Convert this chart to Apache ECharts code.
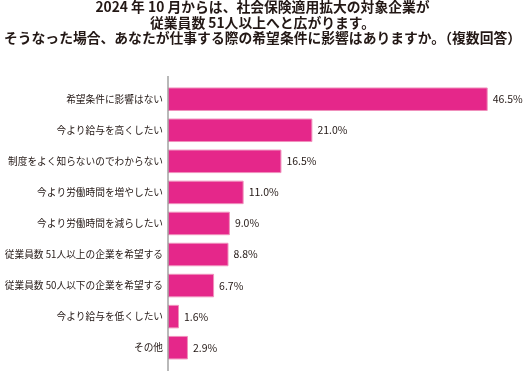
<!DOCTYPE html>
<html>
<head>
<meta charset="utf-8">
<script src="https://cdn.jsdelivr.net/npm/echarts@6/dist/echarts.min.js"></script>
<style>html,body{margin:0;padding:0;background:#fff;}#c{width:525px;height:371px;}</style>
</head>
<body>
<div id="c"></div>
<script>
const titleLines = [
  '2024 年 10 月からは、社会保険適用拡大の対象企業が',
  '従業員数 51人以上へと広がります。',
  'そうなった場合、あなたが仕事する際の希望条件に影響はありますか。（複数回答）'
];
const categories = [
  '希望条件に影響はない',
  '今より給与を高くしたい',
  '制度をよく知らないのでわからない',
  '今より労働時間を増やしたい',
  '今より労働時間を減らしたい',
  '従業員数 51人以上の企業を希望する',
  '従業員数 50人以下の企業を希望する',
  '今より給与を低くしたい',
  'その他'
];
const values = [46.5, 21.0, 16.5, 11.0, 9.0, 8.8, 6.7, 1.6, 2.9];

const font = "'Noto Sans CJK JP', 'Noto Sans', sans-serif";
const chart = echarts.init(document.getElementById('c'), null, {renderer: 'canvas'});
chart.setOption({
  backgroundColor: '#ffffff',
  animation: false,
  title: titleLines.map((t, i) => ({
    text: t,
    left: 'center',
    top: -0.5 + i * 15.5,
    padding: 0,
    textStyle: {
      fontFamily: font,
      fontSize: 13.8,
      fontWeight: 'bold',
      color: '#231815',
      lineHeight: 15
    }
  })),
  grid: {left: 168, right: 13.25, top: 83.7, bottom: 7.8, containLabel: false},
  xAxis: {
    type: 'value', min: 0, max: 50, show: false
  },
  yAxis: {
    type: 'category',
    data: categories,
    inverse: true,
    axisLine: {show: false},
    axisTick: {show: false},
    axisLabel: {
      fontFamily: font, fontSize: 9.7, color: '#231815', margin: 5
    }
  },
  graphic: [{
    type: 'line',
    shape: {x1: 168, y1: 76, x2: 168, y2: 371},
    style: {stroke: '#8a8a8a', lineWidth: 1.2},
    z: 10
  }],
  series: [{
    type: 'bar',
    data: values,
    barWidth: 23.5,
    itemStyle: {color: '#E5278A', borderColor: '#F090BC', borderWidth: 1},
    label: {
      show: true,
      position: 'right',
      distance: 5,
      fontFamily: font,
      fontSize: 10.5,
      color: '#231815',
      formatter: p => p.value.toFixed(1) + '%'
    }
  }]
});
</script>
</body>
</html>
